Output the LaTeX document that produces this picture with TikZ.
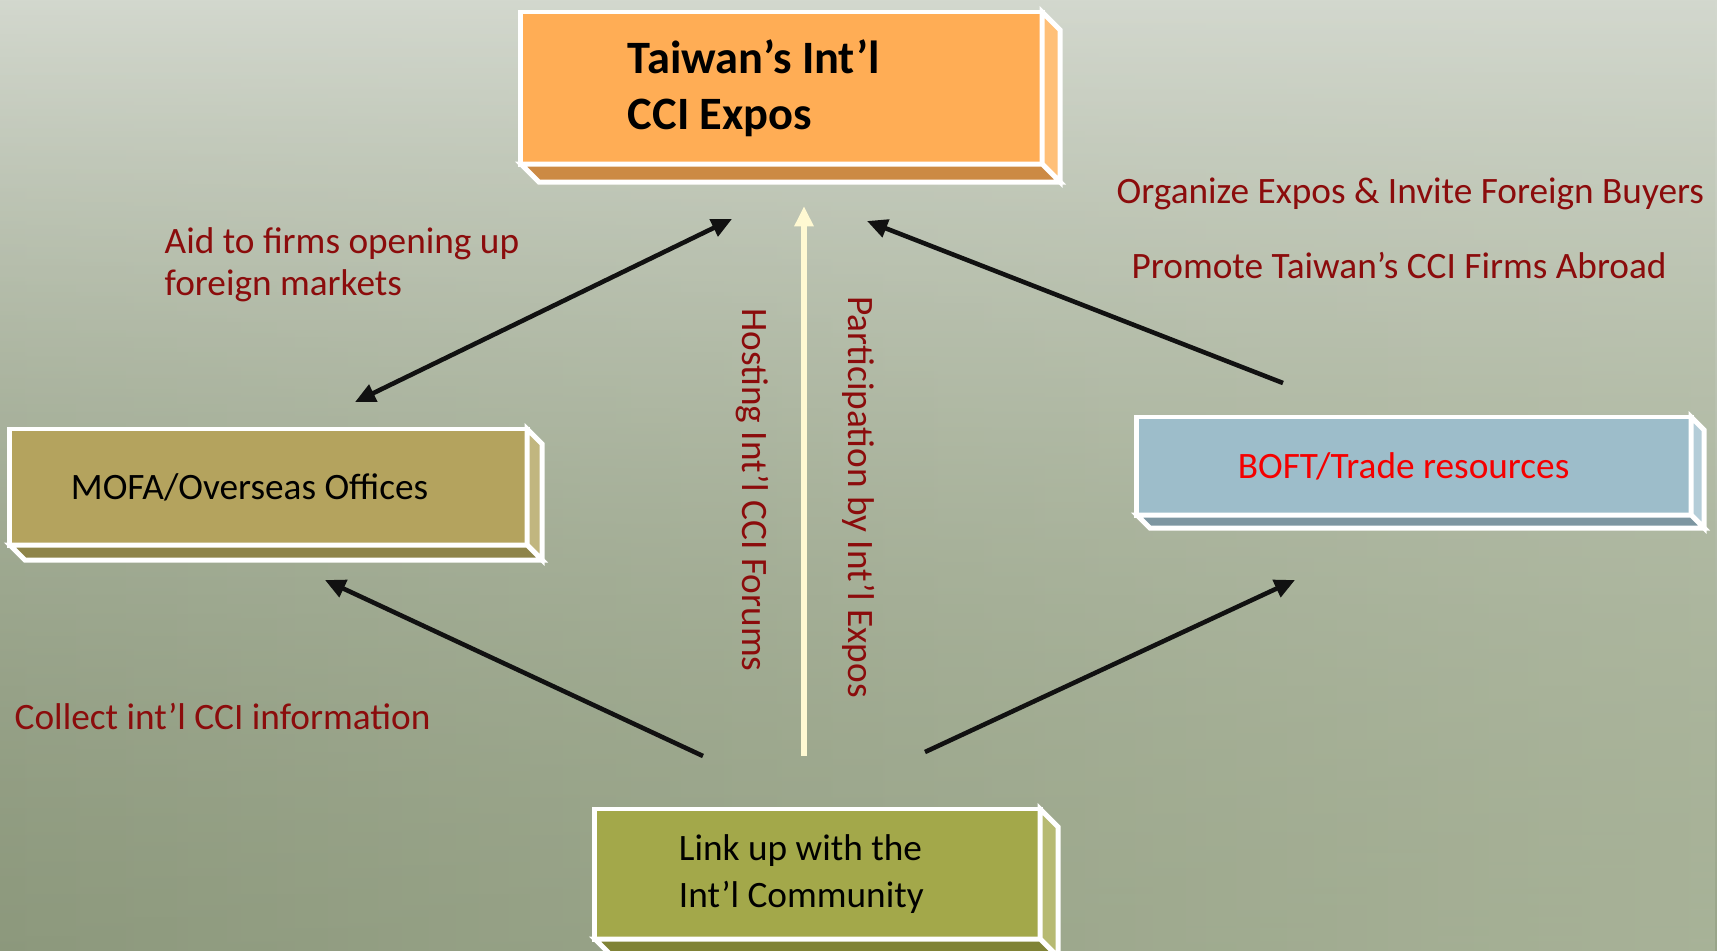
\documentclass[tikz,border=0pt]{standalone}
\usepackage{fontspec}
\setmainfont{Carlito}
\usetikzlibrary{calc,arrows.meta,fadings}

\definecolor{bgtop}{RGB}{211,216,206}
\definecolor{bgmid}{RGB}{192,201,178}
\definecolor{bgbottom}{RGB}{152,164,136}
\definecolor{bgleft}{RGB}{138,150,122}
\definecolor{bgright}{RGB}{172,182,156}
\definecolor{tagred}{RGB}{139,12,12}
\definecolor{boftred}{RGB}{245,0,0}
\definecolor{linkblack}{RGB}{17,17,17}
\definecolor{linkcream}{RGB}{255,249,210}
\definecolor{expoface}{RGB}{255,173,85}
\definecolor{exposide}{RGB}{255,192,120}
\definecolor{expobase}{RGB}{204,138,68}
\definecolor{mofaface}{RGB}{180,163,94}
\definecolor{mofaside}{RGB}{193,182,127}
\definecolor{mofabase}{RGB}{142,132,73}
\definecolor{boftface}{RGB}{157,189,202}
\definecolor{boftside}{RGB}{180,205,216}
\definecolor{boftbase}{RGB}{125,150,161}
\definecolor{linkface}{RGB}{163,168,74}
\definecolor{linkside}{RGB}{183,186,114}
\definecolor{linkbase}{RGB}{128,131,54}

\newcommand{\tagfont}{\fontsize{10.6pt}{11.9pt}\selectfont}
\newcommand{\boxfont}{\fontsize{10.6pt}{13.4pt}\selectfont}
\newcommand{\titlefont}{\fontsize{13.2pt}{15.9pt}\selectfont\bfseries}

% side and bottom faces of a slab: node, depth, side colour, bottom colour
\newcommand{\slabsides}[4]{%
  \draw[rim, fill=#3] (#1.north east) -- ++(#2,#2) -- ($(#1.south east)+(#2,#2)$) -- (#1.south east) -- cycle;
  \draw[rim, fill=#4] (#1.south west) -- (#1.south east) -- ($(#1.south east)+(#2,#2)$) -- ($(#1.south west)+(#2,#2)$) -- cycle;
}

\tikzset{
  rim/.style={draw=white, line width=1.4pt, line join=miter},
  slab/.style={rim, rectangle, outer sep=0pt, inner ysep=0pt, align=flush left, font=\boxfont},
  tag/.style={text=tagred, font=\tagfont, inner sep=0pt},
  link/.style={-{Triangle[length=5.8pt,width=5.2pt]}, line width=1.3pt, draw=linkblack},
}

\begin{document}
\begin{tikzpicture}[x=0.01cm, y=-0.01cm]
    \useasboundingbox (0,0) rectangle (1717,950);
    \clip (0,0) rectangle (1717,950);
    \shade[top color=bgtop, middle color=bgmid, bottom color=bgbottom] (0,0) rectangle (1717,950);
    \shade[left color=bgleft, right color=bgright, path fading=north, opacity=0.8] (0,0) rectangle (1717,950);

    % Nodes
    \node (expos) [slab, fill=expoface, font=\titlefont, minimum height=1.52cm, inner xsep=1.07cm, text width=3.07cm] at (781.5,88) {Taiwan’s Int’l\\CCI Expos};
    \node (mofa) [slab, fill=mofaface, minimum height=1.16cm, inner xsep=0.61cm, text width=3.95cm] at (268.5,487) {MOFA/Overseas Offices};
    \node (boft) [slab, fill=boftface, text=boftred, minimum height=0.98cm, inner xsep=1.01cm, text width=3.52cm] at (1414,466) {BOFT/Trade resources};
    \node (community) [slab, fill=linkface, minimum height=1.30cm, inner xsep=0.84cm, text width=2.77cm] at (817.5,874) {Link up with the\\Int’l Community};
    \slabsides{expos}{18}{exposide}{expobase}
    \slabsides{mofa}{15}{mofaside}{mofabase}
    \slabsides{boft}{13}{boftside}{boftbase}
    \slabsides{community}{18}{linkside}{linkbase}

    % Labels
    \node (aid) [tag, anchor=north west, align=left] at (164,227) {Aid to firms opening up\\foreign markets};
    \node (organize) [tag, anchor=base west] at (1116,203) {Organize Expos \& Invite Foreign Buyers};
    \node (promote) [tag, anchor=base west] at (1131,278) {Promote Taiwan’s CCI Firms Abroad};
    \node (collect) [tag, anchor=base west] at (14,729) {Collect int’l CCI information};
    \node (hosting) [tag, rotate=-90] at (752,490) {Hosting Int’l CCI Forums};
    \node (participation) [tag, rotate=-90] at (859,497) {Participation by Int’l Expos};

    % Arrow ends
    \coordinate (mofa end) at (355,402);
    \coordinate (expos left) at (732,219);
    \coordinate (boft start) at (1283,383);
    \coordinate (expos right) at (867,221);
    \coordinate (community left) at (703,756);
    \coordinate (mofa low) at (325,580);
    \coordinate (community right) at (925,752);
    \coordinate (boft low) at (1295,580);
    \coordinate (community mid) at (804,756);
    \coordinate (expos mid) at (804,206);

    % Paths
    \draw[link, {Triangle[length=5.8pt,width=5.2pt]}-{Triangle[length=5.8pt,width=5.2pt]}] (mofa end) -- (expos left);
    \draw[link] (boft start) -- (expos right);
    \draw[link] (community left) -- (mofa low);
    \draw[link] (community right) -- (boft low);
    \draw[link, draw=linkcream, fill=linkcream, line width=1.8pt] (community mid) -- (expos mid);
  \end{tikzpicture}
\end{document}
